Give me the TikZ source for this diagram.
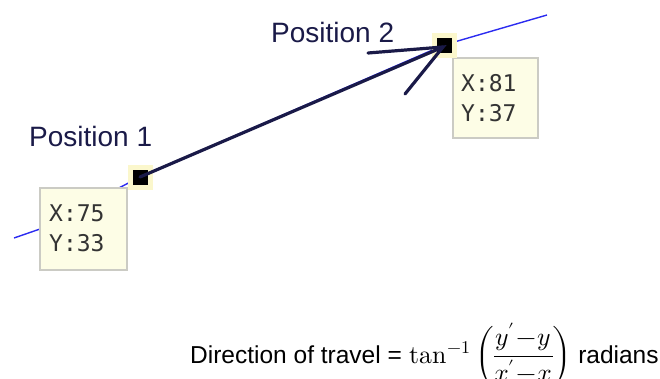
\documentclass[tikz,border=0pt]{standalone}
\usepackage{amsmath}
\usepackage{unicode-math}
\setmainfont{Liberation Sans}
\setmathfont{Latin Modern Math}[Scale=1.05]
\newfontfamily\pixmono{DejaVu Sans Mono}
\definecolor{navy}{HTML}{1A1A48}
\definecolor{trackblue}{HTML}{2B2BF0}
\definecolor{tipfill}{HTML}{FDFDE6}
\definecolor{tipborder}{HTML}{CBCBC4}
\definecolor{halo}{HTML}{FBF7CC}
\definecolor{tiptext}{HTML}{333333}
\begin{document}
\begin{tikzpicture}[x=1pt,y=-1pt,
  track/.style={draw=trackblue,line width=1.4pt},
  marker/.style={fill=black,minimum size=15pt,inner sep=0pt},
  markerhalo/.style={fill=halo,minimum size=25pt,inner sep=0pt},
  tipbox/.style={draw=tipborder,fill=tipfill,line width=1.5pt,inner sep=0pt},
  tiptxt/.style={text=tiptext,font=\pixmono\fontsize{23}{30}\selectfont,anchor=west,inner sep=0pt},
  poslabel/.style={text=navy,font=\fontsize{28}{30}\selectfont,inner sep=0pt,anchor=base west},
  move/.style={draw=navy,line width=3.2pt,line cap=round}]
\useasboundingbox (0,0) rectangle (660,378);
% track
\coordinate (t0) at (14,238);
\coordinate (t1) at (40,229);
\coordinate (t2) at (547,15);
\coordinate (c1) at (140,177);
\coordinate (c2) at (444,45);
\draw[track] (t0) -- (t1) -- (c1) -- (c2) -- (t2);
% tooltip boxes
\node[tipbox,minimum width=87pt,minimum height=82pt] (box1) at (83.5,229) {};
\node[tiptxt] (x1) at (49,213) {X:75};
\node[tiptxt] (y1) at (49,243) {Y:33};
\node[tipbox,minimum width=85pt,minimum height=80pt] (box2) at (495.5,98) {};
\node[tiptxt] (x2) at (461,83) {X:81};
\node[tiptxt] (y2) at (461,113) {Y:37};
% markers
\node[markerhalo] (h1) at (c1) {};
\node[markerhalo] (h2) at (c2) {};
\node[marker] (sq1) at (c1) {};
\node[marker] (sq2) at (c2) {};
% labels
\node[poslabel] (p1) at (29,146) {Position 1};
\node[poslabel] (p2) at (271,42) {Position 2};
% movement arrow
\coordinate (tip) at (443,47);
\coordinate (barbA) at (368,53);
\coordinate (barbB) at (405,94);
\draw[move] (sq1.center) -- (tip);
\draw[move] (barbA) -- (tip) -- (barbB);
% formula
\node[anchor=base west,inner sep=0pt,font=\fontsize{24.5}{28}\selectfont] (formula) at (190,363)
  {Direction of travel = \hspace{1pt}$\medmuskip=1mu\nulldelimiterspace=0pt
   \symup{tan}^{-1}\mkern3mu\biggl(\dfrac{y'-y}{x'-x}\biggr)$ radians};
\end{tikzpicture}
\end{document}
